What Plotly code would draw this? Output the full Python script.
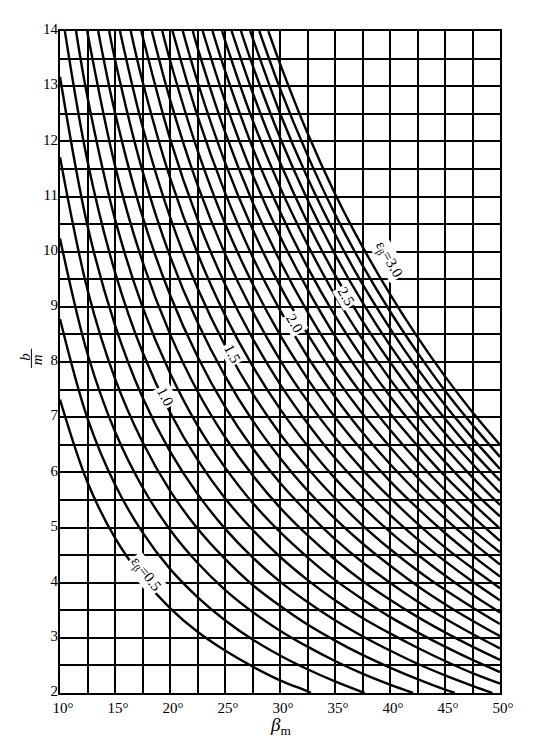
import plotly.graph_objects as go

N = None
# beta_m grid (degrees) at which the b/m values of every curve were read
beta_grid = [10, 12.5, 15, 17.5, 20, 22.5, 25, 27.5, 30, 32.5, 35, 37.5, 40, 42.5, 45, 47.5, 50]

eps_values = [0.5, 0.6, 0.7, 0.8, 0.9, 1.0, 1.1, 1.2, 1.3, 1.4, 1.5, 1.6, 1.7,
              1.8, 1.9, 2.0, 2.1, 2.2, 2.3, 2.4, 2.5, 2.6, 2.7, 2.8, 2.9, 3.0]

# b/m read at each beta_grid value (None = outside the frame)
bm_e05 = [7.32, 5.82, 4.81, 4.09, 3.54, 3.11, 2.77, 2.48, 2.23, 2.03, N, N, N, N, N, N, N]
bm_e06 = [8.78, 6.98, 5.78, 4.91, 4.25, 3.74, 3.32, 2.97, 2.68, 2.43, 2.21, N, N, N, N, N, N]
bm_e07 = [10.24, 8.15, 6.74, 5.73, 4.96, 4.36, 3.87, 3.47, 3.13, 2.84, 2.58, 2.35, 2.15, N, N, N, N]
bm_e08 = [11.71, 9.31, 7.70, 6.55, 5.67, 4.98, 4.43, 3.96, 3.58, 3.24, 2.95, 2.69, 2.46, 2.25, 2.06, N, N]
bm_e09 = [13.17, 10.47, 8.67, 7.36, 6.38, 5.61, 4.98, 4.46, 4.02, 3.65, 3.32, 3.03, 2.77, 2.53, 2.32, 2.13, N]
bm_e10 = [N, 11.64, 9.63, 8.18, 7.09, 6.23, 5.53, 4.96, 4.47, 4.05, 3.68, 3.36, 3.08, 2.82, 2.58, 2.36, 2.17]
bm_e11 = [N, 12.80, 10.59, 9.00, 7.80, 6.85, 6.09, 5.45, 4.92, 4.46, 4.05, 3.70, 3.38, 3.10, 2.84, 2.60, 2.38]
bm_e12 = [N, N, 11.56, 9.82, 8.51, 7.47, 6.64, 5.95, 5.36, 4.86, 4.42, 4.03, 3.69, 3.38, 3.10, 2.84, 2.60]
bm_e13 = [N, N, 12.52, 10.64, 9.22, 8.10, 7.19, 6.44, 5.81, 5.27, 4.79, 4.37, 4.00, 3.66, 3.35, 3.07, 2.81]
bm_e14 = [N, N, 13.48, 11.46, 9.92, 8.72, 7.75, 6.94, 6.26, 5.67, 5.16, 4.71, 4.31, 3.94, 3.61, 3.31, 3.03]
bm_e15 = [N, N, N, 12.27, 10.63, 9.34, 8.30, 7.43, 6.70, 6.08, 5.53, 5.04, 4.61, 4.22, 3.87, 3.55, 3.25]
bm_e16 = [N, N, N, 13.09, 11.34, 9.97, 8.85, 7.93, 7.15, 6.48, 5.89, 5.38, 4.92, 4.51, 4.13, 3.78, 3.46]
bm_e17 = [N, N, N, N, 12.05, 10.59, 9.41, 8.43, 7.60, 6.89, 6.26, 5.72, 5.23, 4.79, 4.39, 4.02, 3.68]
bm_e18 = [N, N, N, N, 12.76, 11.21, 9.96, 8.92, 8.04, 7.29, 6.63, 6.05, 5.54, 5.07, 4.64, 4.26, 3.90]
bm_e19 = [N, N, N, N, 13.47, 11.84, 10.51, 9.42, 8.49, 7.70, 7.00, 6.39, 5.84, 5.35, 4.90, 4.49, 4.11]
bm_e20 = [N, N, N, N, N, 12.46, 11.07, 9.91, 8.94, 8.10, 7.37, 6.72, 6.15, 5.63, 5.16, 4.73, 4.33]
bm_e21 = [N, N, N, N, N, 13.08, 11.62, 10.41, 9.38, 8.51, 7.74, 7.06, 6.46, 5.91, 5.42, 4.96, 4.55]
bm_e22 = [N, N, N, N, N, 13.70, 12.17, 10.90, 9.83, 8.91, 8.10, 7.40, 6.77, 6.20, 5.68, 5.20, 4.76]
bm_e23 = [N, N, N, N, N, N, 12.73, 11.40, 10.28, 9.32, 8.47, 7.73, 7.07, 6.48, 5.93, 5.44, 4.98]
bm_e24 = [N, N, N, N, N, N, 13.28, 11.89, 10.73, 9.72, 8.84, 8.07, 7.38, 6.76, 6.19, 5.67, 5.20]
bm_e25 = [N, N, N, N, N, N, 13.83, 12.39, 11.17, 10.13, 9.21, 8.41, 7.69, 7.04, 6.45, 5.91, 5.41]
bm_e26 = [N, N, N, N, N, N, N, 12.89, 11.62, 10.53, 9.58, 8.74, 8.00, 7.32, 6.71, 6.15, 5.63]
bm_e27 = [N, N, N, N, N, N, N, 13.38, 12.07, 10.94, 9.95, 9.08, 8.30, 7.60, 6.97, 6.38, 5.85]
bm_e28 = [N, N, N, N, N, N, N, 13.88, 12.51, 11.34, 10.32, 9.41, 8.61, 7.88, 7.22, 6.62, 6.06]
bm_e29 = [N, N, N, N, N, N, N, N, 12.96, 11.75, 10.68, 9.75, 8.92, 8.17, 7.48, 6.86, 6.28]
bm_e30 = [N, N, N, N, N, N, N, N, 13.41, 12.15, 11.05, 10.09, 9.23, 8.45, 7.74, 7.09, 6.50]

# beta_m where each curve meets the top edge (b/m = 14), None if it starts at the left edge
beta_top = [N, N, N, N, N, 10.44, 11.46, 12.47, 13.47, 14.47, 15.45, 16.43, 17.39,
            18.35, 19.30, 20.23, 21.16, 22.07, 22.97, 23.86, 24.74, 25.60, 26.45, 27.29, 28.12, 28.94]
# beta_m where each curve meets the bottom edge (b/m = 2), None if it ends at the right edge
beta_bottom = [32.8, 37.7, 42.1, 45.9, 49.3] + [N] * 21

curves = [bm_e05, bm_e06, bm_e07, bm_e08, bm_e09, bm_e10, bm_e11, bm_e12, bm_e13,
          bm_e14, bm_e15, bm_e16, bm_e17, bm_e18, bm_e19, bm_e20, bm_e21, bm_e22,
          bm_e23, bm_e24, bm_e25, bm_e26, bm_e27, bm_e28, bm_e29, bm_e30]

# curve labels: text, beta, b/m, rotation
label_text = ["ε<sub>β</sub>=0.5", "1.0", "1.5", "2.0", "2.5", "ε<sub>β</sub>=3.0"]
label_beta = [17.75, 19.6, 25.7, 31.3, 36.0, 39.9]
label_bm = [4.15, 7.37, 8.15, 8.70, 9.20, 9.85]
label_angle = [52, 63, 61, 59, 59, 60]

x_tick_vals = [10, 15, 20, 25, 30, 35, 40, 45, 50]
x_tick_text = ["10°", "15°", "20°", "25°", "30°", "35°", "40°", "45°", "50°"]
y_tick_vals = [2, 3, 4, 5, 6, 7, 8, 9, 10, 11, 12, 13, 14]

Y_TOP, Y_BOTTOM = 14, 2
fig = go.Figure()
for i, ys in enumerate(curves):
    xs_c, ys_c = [], []
    if beta_top[i] is not None:
        xs_c.append(beta_top[i]); ys_c.append(Y_TOP)
    for b, v in zip(beta_grid, ys):
        if v is not None:
            xs_c.append(b); ys_c.append(v)
    if beta_bottom[i] is not None:
        xs_c.append(beta_bottom[i]); ys_c.append(Y_BOTTOM)
    fig.add_trace(go.Scatter(x=xs_c, y=ys_c, mode="lines",
                             line=dict(color="black", width=2.4, shape="spline"),
                             showlegend=False, hoverinfo="skip",
                             name=f"εβ={eps_values[i]}"))

serif = "Liberation Serif, Times New Roman, serif"
for t, bx, by, ang in zip(label_text, label_beta, label_bm, label_angle):
    fig.add_annotation(x=bx, y=by, text=t, showarrow=False, textangle=ang,
                       xanchor="center", yanchor="middle",
                       font=dict(family=serif, size=15, color="black"),
                       bgcolor="white", borderpad=1)

axis_common = dict(showgrid=True, gridcolor="black", gridwidth=1.6,
                   showline=True, linecolor="black", linewidth=2, mirror=True,
                   zeroline=False, ticks="",
                   tickfont=dict(family=serif, size=15, color="black"))

# an invisible leading degree sign keeps the number itself centred on its grid line
spacer = "<span style='color:rgba(0,0,0,0)'>°</span>"
fig.update_xaxes(range=[10, 50], tickmode="array", tickvals=x_tick_vals,
                 ticktext=[spacer + t for t in x_tick_text],
                 ticklabelstandoff=0,
                 minor=dict(dtick=2.5, tick0=10, showgrid=True, gridcolor="black", gridwidth=1.6),
                 **axis_common)
fig.update_yaxes(range=[2, 14], tickmode="array", tickvals=y_tick_vals,
                 ticklabelstandoff=-3, ticklabelshift=-2,
                 minor=dict(dtick=0.5, tick0=2, showgrid=True, gridcolor="black", gridwidth=1.6),
                 **axis_common)

# axis titles
fig.add_annotation(xref="paper", yref="paper", x=0.5, y=-0.050,
                   xanchor="center", yanchor="middle",
                   text="<i>β</i><sub>m</sub>", showarrow=False,
                   font=dict(family=serif, size=19, color="black"))
fig.add_annotation(xref="paper", yref="paper", x=-0.0795, y=0.508, text="<i>b</i>",
                   xanchor="center", yanchor="middle",
                   textangle=-90, showarrow=False, font=dict(family=serif, size=15, color="black"))
fig.add_annotation(xref="paper", yref="paper", x=-0.0520, y=0.503, text="<i>m</i>",
                   xanchor="center", yanchor="middle",
                   textangle=-90, showarrow=False, font=dict(family=serif, size=15, color="black"))
fig.add_shape(type="line", xref="paper", yref="paper", x0=-0.0650, x1=-0.0650,
              y0=0.491, y1=0.520, line=dict(color="black", width=1))

# the page body adds an 8px offset, so the margins are shifted to keep the frame in place
fig.update_layout(width=534, height=745, margin=dict(l=52, r=42, t=23, b=60),
                  paper_bgcolor="white", plot_bgcolor="white")

fig.write_html("out.html")
